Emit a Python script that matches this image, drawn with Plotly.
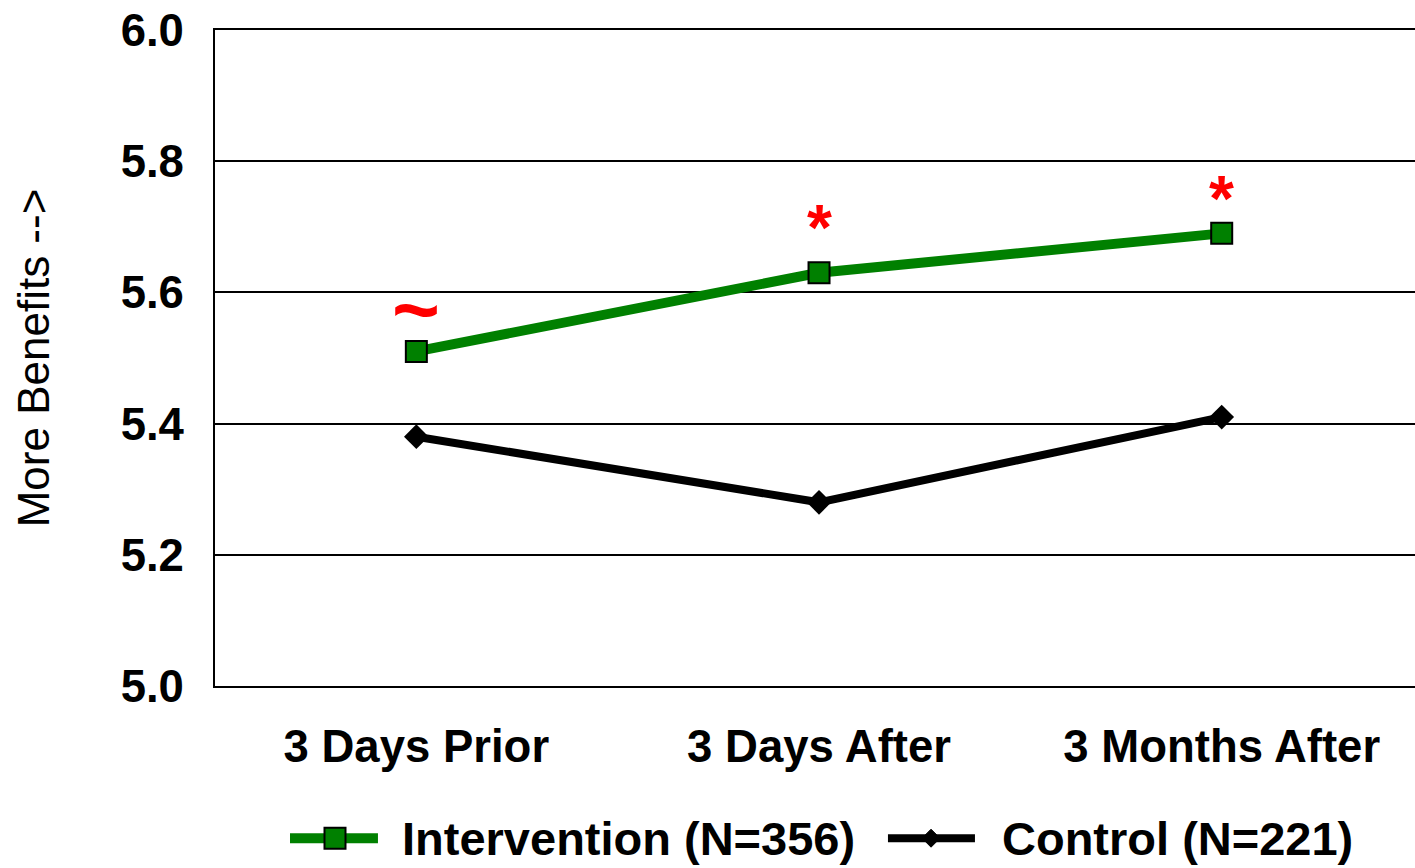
import plotly.graph_objects as go

# Time points and group means
timepoints = ["3 Days Prior", "3 Days After", "3 Months After"]
intervention = [5.51, 5.63, 5.69]
control = [5.38, 5.28, 5.41]
significance = ["~", "*", "*"]

y_ticks = [5.0, 5.2, 5.4, 5.6, 5.8, 6.0]

GREEN = "#008000"
FONT = "Liberation Sans, Arial, sans-serif"

fig = go.Figure()

fig.add_trace(go.Scatter(
    x=timepoints, y=control, mode="lines+markers",
    name="Control (N=221)",
    line=dict(color="black", width=8),
    marker=dict(symbol="diamond", size=19, color="black"),
    showlegend=False,
))
fig.add_trace(go.Scatter(
    x=timepoints, y=intervention, mode="lines+markers",
    name="Intervention (N=356)",
    line=dict(color=GREEN, width=10),
    marker=dict(symbol="square", size=21, color=GREEN,
                line=dict(color="black", width=2)),
    showlegend=False,
))

# Significance markers above the intervention points
shifts = [-6, 7, -4]
sizes = {"~": 82, "*": 64}
for x, y, s, dy in zip(timepoints, intervention, significance, shifts):
    fig.add_annotation(
        x=x, y=y, text="<b>%s</b>" % s, showarrow=False, yshift=dy,
        yanchor="bottom",
        font=dict(family=FONT, size=sizes[s], color="red"),
    )

# Legend drawn below the plot area
LEG_Y = -0.232
legend_items = [
    dict(x0=0.0625, x1=0.1358, xm=0.1, color=GREEN, width=10,
         label="Intervention (N=356)", lx=0.154, kind="square"),
    dict(x0=0.5608, x1=0.6333, xm=0.5967, color="black", width=8,
         label="Control (N=221)", lx=0.654, kind="diamond"),
]
for it in legend_items:
    fig.add_shape(type="line", xref="paper", yref="paper",
                  x0=it["x0"], x1=it["x1"], y0=LEG_Y, y1=LEG_Y,
                  line=dict(color=it["color"], width=it["width"]))
    if it["kind"] == "square":
        fig.add_shape(type="rect", xref="paper", yref="paper",
                      xsizemode="pixel", ysizemode="pixel",
                      xanchor=it["xm"], yanchor=LEG_Y,
                      x0=-10.5, x1=10.5, y0=-10.5, y1=10.5,
                      fillcolor=GREEN, line=dict(color="black", width=2))
    else:
        fig.add_shape(type="path", xref="paper", yref="paper",
                      xsizemode="pixel", ysizemode="pixel",
                      xanchor=it["xm"], yanchor=LEG_Y,
                      path="M 0 9 L 9 0 L 0 -9 L -9 0 Z",
                      fillcolor="black", line=dict(color="black", width=1))
    fig.add_annotation(
        x=it["lx"], y=LEG_Y, xref="paper", yref="paper",
        xanchor="left", yanchor="middle", showarrow=False,
        text="<b>%s</b>" % it["label"],
        font=dict(family=FONT, size=47, color="black"),
    )

fig.update_layout(
    width=1415, height=868,
    margin=dict(l=215, r=0, t=30, b=182),
    paper_bgcolor="white", plot_bgcolor="white",
    font=dict(family=FONT, color="black"),
    showlegend=False,
)

fig.update_xaxes(
    type="category", range=[-0.5, 2.48],
    showgrid=False, zeroline=False,
    showline=True, linecolor="black", linewidth=2, mirror=True,
    ticks="", tickfont=dict(family=FONT, size=45.5, color="black", weight="bold"),
    ticklabelstandoff=19,
)
fig.update_yaxes(
    range=[5.0, 6.0], tickvals=y_ticks, tickformat=".1f",
    showgrid=True, gridcolor="black", gridwidth=2,
    zeroline=False,
    showline=True, linecolor="black", linewidth=2,
    ticks="", tickfont=dict(family=FONT, size=45.5, color="black", weight="bold"),
    ticklabelstandoff=20,
    title=dict(text="More Benefits -->", font=dict(family=FONT, size=44, color="black"),
               standoff=57),
)

fig.write_html("out.html")
